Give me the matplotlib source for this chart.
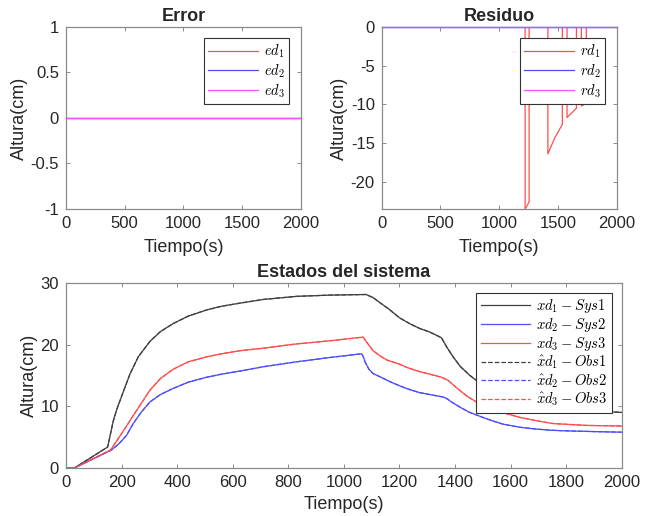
import matplotlib
matplotlib.use('Agg')
import matplotlib.pyplot as plt

# ---- data ----
t_err = [0, 2000]
ed1 = [0, 0]
ed2 = [0, 0]
ed3 = [0, 0]

t_rd1 = [0, 1221, 1221, 1255, 1255, 1415, 1415, 1474, 1538, 1538,
         1578, 1578, 1658, 1658, 1700, 1700, 1742, 1742, 2000]
rd1 = [0, 0, -23.5, -22.6, 0, 0, -16.4, -14.3, -12.6, 0,
       0, -11.7, -10.5, 0, 0, -10.2, -9.9, 0, 0]
t_rd = [0, 2000]
rd2 = [0, 0]
rd3 = [0, 0]

t_x1 = [0, 30, 150, 160, 170, 182, 200, 230, 260, 302, 340, 386, 440, 506,
        560, 626, 710, 830, 950, 1080, 1105, 1129, 1160, 1201, 1240, 1273,
        1310, 1351, 1370, 1393, 1420, 1453, 1500, 1560, 1633, 1700, 1753,
        1873, 2000]
xd1 = [0, 0, 3.4, 5.5, 7.6, 9.4, 11.6, 15.2, 18.0, 20.5, 22.1, 23.4, 24.6,
       25.6, 26.2, 26.7, 27.3, 27.8, 28.0, 28.1, 27.6, 26.8, 25.8, 24.3,
       23.3, 22.6, 22.0, 21.1, 19.6, 18.0, 16.4, 15.0, 13.4, 12.1, 11.0,
       10.3, 9.9, 9.3, 9.0]

t_x2 = [0, 30, 163, 190, 218, 242, 270, 302, 340, 386, 440, 506, 560, 626,
        710, 830, 950, 1064, 1070, 1076, 1090, 1105, 1129, 1165, 1201, 1237,
        1273, 1309, 1357, 1372, 1387, 1420, 1453, 1500, 1537, 1573, 1633,
        1693, 1753, 1813, 1900, 2000]
xd2 = [0, 0, 2.9, 3.9, 5.3, 7.2, 9.0, 10.7, 11.9, 12.9, 13.9, 14.7, 15.2,
       15.7, 16.4, 17.2, 17.9, 18.5, 18.0, 17.2, 16.0, 15.3, 14.8, 14.0,
       13.3, 12.7, 12.2, 11.9, 11.5, 11.2, 10.7, 9.8, 9.0, 8.2, 7.6, 7.1,
       6.6, 6.3, 6.1, 6.0, 5.9, 5.8]

t_x3 = [0, 30, 160, 190, 218, 242, 270, 302, 340, 386, 440, 506, 560, 626,
        710, 830, 950, 1069, 1085, 1105, 1129, 1154, 1201, 1226, 1273, 1309,
        1351, 1375, 1400, 1441, 1480, 1525, 1570, 1633, 1700, 1753, 1873,
        2000]
xd3 = [0, 0, 2.9, 4.9, 6.8, 8.5, 10.4, 12.6, 14.5, 16.0, 17.2, 18.0, 18.5,
       19.0, 19.4, 20.1, 20.6, 21.2, 20.2, 19.0, 18.2, 17.5, 16.8, 16.3,
       15.6, 15.2, 14.7, 14.2, 13.2, 11.7, 10.6, 9.7, 9.0, 8.2, 7.6, 7.2,
       6.9, 6.8]

# observer estimates coincide with the system states (error = 0)
xh1, xh2, xh3 = xd1, xd2, xd3

# ---- style ----
plt.rcParams['font.family'] = ['Liberation Sans', 'DejaVu Sans']
plt.rcParams['mathtext.fontset'] = 'cm'
txt = '#262626'
edge = '#8a8a8a'
c_red = '#ff4d4d'
c_blue = '#4d4dff'
c_mag = '#ff4dff'
c_blk = '#404040'


def style_axes(ax, xpad):
    for s in ax.spines.values():
        s.set_color(edge)
        s.set_linewidth(0.9)
    ax.tick_params(direction='in', top=True, right=True, length=3,
                   width=0.7, color=edge, labelsize=12, labelcolor=txt, pad=5)
    ax.set_ylabel('Altura(cm)', fontsize=13, color=txt, labelpad=2)
    ax.set_xlabel('Tiempo(s)', fontsize=13, color=txt, labelpad=xpad)


def add_legend(ax, size, bpad, spacing):
    leg = ax.legend(loc='upper right', fontsize=size, handlelength=3.4,
                    fancybox=False, framealpha=1, borderpad=0.3,
                    labelspacing=spacing, handletextpad=0.4,
                    borderaxespad=bpad)
    leg.get_frame().set_edgecolor('#333333')
    leg.get_frame().set_linewidth(0.8)


fig = plt.figure(figsize=(6.47, 5.16), dpi=100)

# Error
ax1 = fig.add_axes([0.102, 0.595, 0.363, 0.353])
ax1.plot(t_err, ed1, color=c_red, lw=0.9, label=r'$ed_1$')
ax1.plot(t_err, ed2, color=c_blue, lw=0.9, label=r'$ed_2$')
ax1.plot(t_err, ed3, color=c_mag, lw=0.9, label=r'$ed_3$')
ax1.set_xlim(0, 2000)
ax1.set_ylim(-1, 1)
ax1.set_xticks([0, 500, 1000, 1500, 2000])
ax1.set_yticks([-1, -0.5, 0, 0.5, 1])
ax1.set_yticklabels(['-1', '-0.5', '0', '0.5', '1'])
ax1.set_title('Error', fontsize=13, fontweight='bold', color=txt, pad=4)
style_axes(ax1, 6)
add_legend(ax1, 10.5, 0.8, 0.15)

# Residuo
ax2 = fig.add_axes([0.590, 0.595, 0.363, 0.353])
ax2.plot(t_rd1, rd1, color=c_red, lw=0.9, label=r'$rd_1$')
ax2.plot(t_rd, rd2, color=c_blue, lw=0.9, label=r'$rd_2$', clip_on=False)
ax2.plot(t_rd, rd3, color=c_mag, lw=0.9, label=r'$rd_3$', clip_on=False)
ax2.set_xlim(0, 2000)
ax2.set_ylim(-23.5, 0)
ax2.set_xticks([0, 500, 1000, 1500, 2000])
ax2.set_yticks([-20, -15, -10, -5, 0])
ax2.set_yticklabels(['-20', '-15', '-10', '-5', '0'])
ax2.set_title('Residuo', fontsize=13, fontweight='bold', color=txt, pad=4)
style_axes(ax2, 6)
add_legend(ax2, 10.5, 0.8, 0.15)

# Estados del sistema
ax3 = fig.add_axes([0.102, 0.093, 0.859, 0.359])
ax3.plot(t_x1, xd1, color=c_blk, lw=0.9, label=r'$xd_1 - Sys1$')
ax3.plot(t_x2, xd2, color=c_blue, lw=0.9, label=r'$xd_2 - Sys2$')
ax3.plot(t_x3, xd3, color=c_red, lw=0.9, label=r'$xd_3 - Sys3$')
ax3.plot(t_x1, xh1, color=c_blk, lw=0.9, ls='--', label=r'$\hat{x}d_1 - Obs1$')
ax3.plot(t_x2, xh2, color=c_blue, lw=0.9, ls='--', label=r'$\hat{x}d_2 - Obs2$')
ax3.plot(t_x3, xh3, color=c_red, lw=0.9, ls='--', label=r'$\hat{x}d_3 - Obs3$')
ax3.set_xlim(0, 2000)
ax3.set_ylim(0, 30)
ax3.set_xticks(range(0, 2001, 200))
ax3.set_yticks([0, 10, 20, 30])
ax3.set_title('Estados del sistema', fontsize=13, fontweight='bold',
              color=txt, pad=4)
style_axes(ax3, 4)
add_legend(ax3, 10.5, 0.7, 0.05)

fig.savefig('out.png', dpi=100)
